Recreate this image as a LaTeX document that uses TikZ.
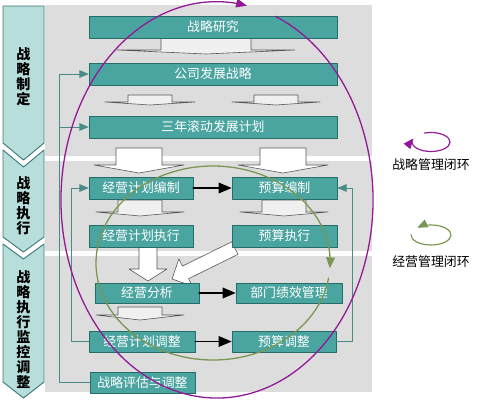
\documentclass[tikz,border=0pt]{standalone}
\usepackage{fontspec}
\setmainfont{Noto Sans CJK SC}
\usepackage{tikz}
\usetikzlibrary{arrows,shadows}
\definecolor{boxfill}{RGB}{74,164,160}
\definecolor{boxline}{RGB}{38,108,105}
\definecolor{stagefill}{RGB}{184,222,220}
\definecolor{stageline}{RGB}{62,122,120}
\definecolor{panel}{RGB}{221,221,221}
\definecolor{connline}{RGB}{72,140,136}
\definecolor{blkline}{RGB}{85,85,85}
\definecolor{loopP}{RGB}{145,25,150}
\definecolor{loopG}{RGB}{122,150,82}

\begin{document}
\begin{tikzpicture}[line cap=round,line join=round,>=triangle 45,x=0.03cm,y=-0.03cm,
  box/.style={draw=boxline,fill=boxfill,text=white,line width=0.6pt,minimum height=0.66cm,inner sep=0pt,
    font=\fontsize{11}{13}\selectfont,drop shadow={shadow xshift=0.9pt,shadow yshift=-0.9pt,fill=black!65,opacity=1}},
  stage/.style={draw=stageline,fill=stagefill,line width=0.8pt},
  stagetext/.style={align=center,inner sep=0pt,font=\fontsize{12}{12.8}\selectfont\bfseries},
  conn/.style={draw=connline,line width=0.8pt},
  thick arrow/.style={line width=1.6pt,->},
  blk/.style={draw=blkline,fill=white,line width=0.5pt},
  flatblk/.style={draw=blkline,fill=panel!45!white,line width=0.5pt},
  loopline/.style={line width=1.1pt,->}]
\useasboundingbox (0,0) rectangle (478,400);
\fill[panel] (45,5) rectangle (372,156);
\fill[panel] (45,161) rectangle (372,251);
\fill[panel] (45,256) rectangle (372,392);
\draw[stage] (3,6) -- (44,6) -- (44,143) -- (23.5,160) -- (3,143) -- cycle;
\draw[stage] (3,150) -- (23.5,167) -- (44,150) -- (44,237) -- (23.5,252) -- (3,237) -- cycle;
\draw[stage] (3,244) -- (23.5,259) -- (44,244) -- (44,382) -- (23.5,398) -- (3,382) -- cycle;
\node[stagetext] (s1) at (23.5,77) {战\\略\\制\\定};
\node[stagetext] (s2) at (23.5,206) {战\\略\\执\\行};
\node[stagetext] (s3) at (23.5,330) {战\\略\\执\\行\\监\\控\\调\\整};
\foreach \c/\t/\b/\s/\w/\p in {206/38/50/45/89/54,150/95/102/22/45/105,276/95/102/22/44/105,140/200/212/22/44/216,284/200/212/22/44/216,140/307/315/22/44/320}
  \draw[flatblk] (\c-\s,\t) -- (\c-\s,\b) -- (\c-\w,\b) -- (\c,\p) -- (\c+\w,\b) -- (\c+\s,\b) -- (\c+\s,\t) -- cycle;
\foreach \c/\t/\b/\s/\w/\p in {139/148/165/23/45/173,283/148/165/23/45/173,148/240/269/9/19/281}
  \draw[blk] (\c-\s,\t) -- (\c-\s,\b) -- (\c-\w,\b) -- (\c,\p) -- (\c+\w,\b) -- (\c+\s,\b) -- (\c+\s,\t) -- cycle;
\draw[blk] (231.7,241.8) -- (182.4,266.1) -- (178.9,258.9) -- (172,279) -- (192.1,285.9) -- (188.6,278.7) -- (237.9,254.4) -- cycle;
\node[box,minimum width=7.44cm] (yj) at (213,27) {战略研究};
\node[box,minimum width=7.44cm] (fz) at (213,74) {公司发展战略};
\node[box,minimum width=7.44cm] (sn) at (213,127) {三年滚动发展计划};
\node[box,minimum width=3.12cm] (bz) at (141,188) {经营计划编制};
\node[box,minimum width=3.15cm] (ys) at (284.5,188) {预算编制};
\node[box,minimum width=3.12cm] (zx) at (141,236) {经营计划执行};
\node[box,minimum width=3.15cm] (yz) at (284.5,236) {预算执行};
\node[box,minimum width=3.12cm,minimum height=0.6cm] (fx) at (147,293) {经营分析};
\node[box,minimum width=3.18cm,minimum height=0.6cm] (jx) at (289,293) {部门绩效管理};
\node[box,minimum width=3.18cm,minimum height=0.63cm] (tz) at (142,341.5) {经营计划调整};
\node[box,minimum width=3.12cm,minimum height=0.63cm] (yt) at (284,341.5) {预算调整};
\node[box,minimum width=3.15cm,minimum height=0.63cm] (pg) at (142.5,382.5) {战略评估与调整};
\draw[conn,->] (pg.west) -- ++(-30,0) |- (fz.west);
\draw[conn,->] (sn.west) ++(-29,0) -- (sn.west);
\draw[conn,->] (tz.west) -- ++(-17,0) |- (bz.west);
\draw[conn,->] (yt.east) -- ++(16,0) |- (ys.east);
\draw[thick arrow] (bz) -- (ys);
\draw[thick arrow] (fx) -- (jx);
\draw[thick arrow] (tz) -- (yt);
\coordinate (pc) at (217,200);
\coordinate (gc) at (213,263);
\draw[loopline,loopP] ([shift={(292:156 and 198)}]pc) arc[start angle=292,end angle=641,x radius=156,y radius=198];
\draw[loopline,loopG] ([shift={(9:117 and 97)}]gc) arc[start angle=9,end angle=363,x radius=117,y radius=97];
\coordinate (lp) at (431,142);
\coordinate (lg) at (431,235);
\draw[loopline,loopP,line width=1pt] ([shift={(250:19 and 9.5)}]lp) arc[start angle=250,end angle=562,x radius=19,y radius=9.5];
\draw[loopline,loopG,line width=1pt] ([shift={(182:20 and 10)}]lg) arc[start angle=182,end angle=-133,x radius=20,y radius=10];
\node[font=\fontsize{11}{13}\selectfont] (lpt) at (431,165) {战略管理闭环};
\node[font=\fontsize{11}{13}\selectfont] (lgt) at (431,262) {经营管理闭环};
\end{tikzpicture}
\end{document}
